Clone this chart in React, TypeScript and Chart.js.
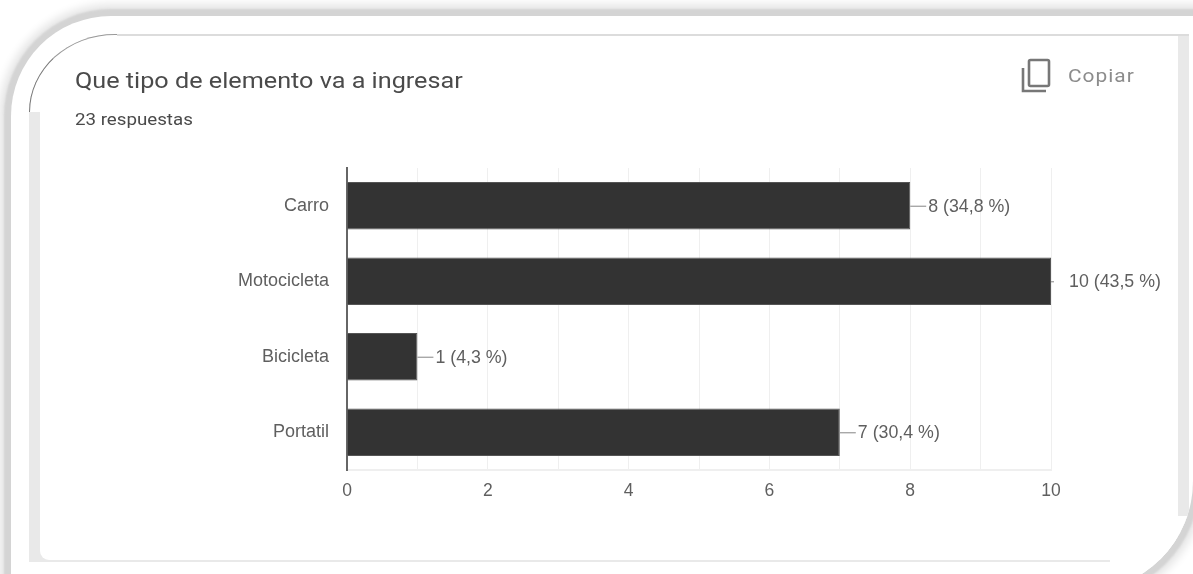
import React, { useEffect, useRef } from "react";
import { Chart, registerables } from "chart.js";

Chart.register(...registerables);

const categories = ["Carro", "Motocicleta", "Bicicleta", "Portatil"];
const counts = [8, 10, 1, 7];
const percents = ["34,8", "43,5", "4,3", "30,4"];
const axisMax = 10;
const title = "Que tipo de elemento va a ingresar";
const subtitle = "23 respuestas";
const copyLabel = "Copiar";

const FONT = "'Liberation Sans', Arial, sans-serif";

const valueLabels = {
  id: "valueLabels",
  afterDatasetsDraw(chart: any) {
    const { ctx, scales } = chart;
    const x = scales.x;
    const y = scales.y;
    ctx.save();
    ctx.font = `17.8px ${FONT}`;
    ctx.textBaseline = "middle";
    ctx.textAlign = "left";
    counts.forEach((v, i) => {
      const px = x.getPixelForValue(v);
      const py = y.getPixelForValue(i);
      const atMax = v >= axisMax;
      ctx.strokeStyle = "#999999";
      ctx.lineWidth = 1.2;
      ctx.beginPath();
      ctx.moveTo(px, py + 0.5);
      ctx.lineTo(px + (atMax ? 3 : 16), py + 0.5);
      ctx.stroke();
      ctx.fillStyle = "#5f5f5f";
      ctx.fillText(`${v} (${percents[i]} %)`, px + 18, py + 1);
    });
    ctx.restore();
  },
};

const abs = (o: React.CSSProperties): React.CSSProperties => ({ position: "absolute", ...o });

export default function App() {
  const ref = useRef<HTMLCanvasElement | null>(null);

  useEffect(() => {
    if (!ref.current) return;
    const chart = new Chart(ref.current, {
      type: "bar",
      data: {
        labels: categories,
        datasets: [
          {
            data: counts,
            backgroundColor: "#333333",
            borderColor: "#555555",
            borderWidth: 1,
            barPercentage: 0.63,
            categoryPercentage: 1,
          },
        ],
      },
      options: {
        indexAxis: "y",
        animation: false,
        responsive: false,
        devicePixelRatio: 1,
        layout: { padding: { left: 0, right: 142, top: 168, bottom: 0 } },
        plugins: { legend: { display: false }, tooltip: { enabled: false }, title: { display: false } },
        scales: {
          x: {
            min: 0,
            max: axisMax,
            afterFit: (s: any) => { s.height = 104; },
            ticks: {
              stepSize: 1,
              autoSkip: false,
              maxRotation: 0,
              padding: 11,
              color: "#5f5f5f",
              font: { family: FONT, size: 17.5 },
              callback: (v: any) => (Number(v) % 2 === 0 ? String(v) : ""),
            },
            grid: { color: "#efefef", lineWidth: 1, drawTicks: false },
            border: { color: "#efefef", width: 2 },
          },
          y: {
            afterFit: (s: any) => { s.width = 347; },
            ticks: {
              padding: 18,
              color: "#5f5f5f",
              font: { family: FONT, size: 18 },
            },
            grid: { display: false, drawTicks: false },
            border: { color: "#666666", width: 2 },
          },
        },
      },
      plugins: [valueLabels],
    } as any);
    return () => chart.destroy();
  }, []);

  return (
    <div style={abs({ left: 0, top: 0, width: 1193, height: 574, background: "#fff", overflow: "hidden", filter: "blur(0.5px)" })}>
      {/* white rim with a stepped soft shadow; it clips the card inside it */}
      <div style={abs({ left: 11, top: 16, width: 1182, height: 575, background: "#fff", overflow: "hidden", borderTopLeftRadius: 100, borderBottomRightRadius: 110, boxShadow: "0 0 2px 7px #d4d4d4, 0 0 8px 12px #e6e6e6" })}>
        {/* grey band */}
        <div style={abs({ left: 18, top: 18, width: 1160, height: 528, background: "#e9e9e9", borderTopLeftRadius: "86px 78px" })} />
        {/* card */}
        <div style={abs({ left: 29, top: 19, width: 1138, height: 525, background: "#fff", borderBottomLeftRadius: 9, borderTopLeftRadius: "76px 70px" })} />
        {/* bottom right corner, white */}
        <div style={abs({ left: 1099, top: 500, width: 83, height: 75, background: "#fff" })} />
        {/* arc */}
        <div style={abs({ left: 18, top: 18, width: 88, height: 78, background: "#fff", borderTopLeftRadius: "86px 78px", borderTop: "1px solid #999", borderLeft: "1px solid #777", boxSizing: "border-box" })} />
        <div style={abs({ left: 106, top: 18, width: 1072, height: 1.5, background: "#dcdcdc" })} />
      </div>
      {/* chart */}
      <canvas ref={ref} width={1193} height={574} style={abs({ left: 0, top: 0, width: 1193, height: 574 })} />
      {/* header */}
      <div style={abs({ left: 75, top: 66, fontFamily: "Roboto, sans-serif", fontSize: 22.5, lineHeight: "28px", color: "#4a4a4a", whiteSpace: "nowrap", transform: "scaleX(1.12)", transformOrigin: "left" })}>{title}</div>
      <div style={abs({ left: 75, top: 110, fontFamily: "Roboto, sans-serif", fontSize: 16, lineHeight: "20px", color: "#4a4a4a", whiteSpace: "nowrap", transform: "scaleX(1.17)", transformOrigin: "left" })}>{subtitle}</div>
      <svg width={30} height={36} viewBox="0 0 30 36" style={abs({ left: 1021, top: 58 })}>
        <path d="M2 10 V33 H25" fill="none" stroke="#777" strokeWidth={2.6} />
        <rect x={8} y={2} width={20} height={26} rx={1.5} fill="none" stroke="#777" strokeWidth={2.6} />
      </svg>
      <div style={abs({ left: 1068, top: 63, fontFamily: "Roboto, sans-serif", fontSize: 19, lineHeight: "26px", color: "#8c8c8c", whiteSpace: "nowrap", letterSpacing: 0.9, transform: "scaleX(1.1)", transformOrigin: "left" })}>{copyLabel}</div>
    </div>
  );
}
